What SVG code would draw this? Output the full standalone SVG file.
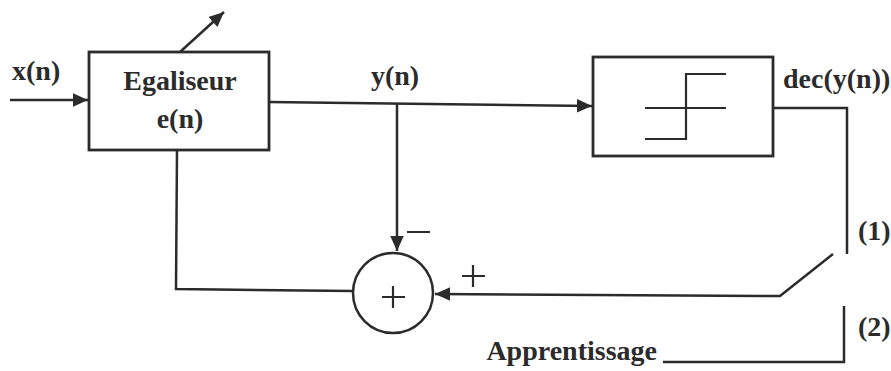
<svg xmlns="http://www.w3.org/2000/svg" width="891" height="371" viewBox="0 0 891 371">
<style>
.ln{fill:none;stroke:#2b2b2b;stroke-width:2.5}
.bx{fill:#fff;stroke:#2b2b2b;stroke-width:2.8}
.t{font-weight:bold;font-size:28px;fill:#2b2b2b}
.s{fill:none;stroke:#2b2b2b;stroke-width:2.2}
</style>
<defs>
<marker id="ah" viewBox="0 0 10 10" refX="10" refY="5" markerWidth="6" markerHeight="6" markerUnits="strokeWidth" orient="auto">
<path d="M0,0.5 L10,5 L0,9.5 Z" fill="#2b2b2b"/>
</marker>
</defs>
<rect width="891" height="371" fill="#fff"/>
<g id="connectors">
<line class="ln" x1="10" y1="100" x2="88" y2="100" marker-end="url(#ah)"/>
<line class="ln" x1="180" y1="52" x2="224" y2="12" marker-end="url(#ah)"/>
<line class="ln" x1="269" y1="102" x2="592" y2="106" marker-end="url(#ah)"/>
<line class="ln" x1="397" y1="103" x2="397" y2="251" marker-end="url(#ah)"/>
<polyline class="ln" points="177,150 176,289 353,291"/>
<polyline class="ln" points="773,108 847,108 847,254"/>
<polyline class="ln" points="833,254 780,296 435,294" marker-end="url(#ah)"/>
<polyline class="ln" points="844,306 844,362 663,362"/>
</g>
<g id="egaliseur">
<rect class="bx" x="89" y="52" width="180" height="98"/>
<text class="t" font-family="Liberation Serif, serif" x="180" y="90" text-anchor="middle">Egaliseur</text>
<text class="t" font-family="Liberation Serif, serif" x="180" y="128" text-anchor="middle">e(n)</text>
</g>
<g id="decision">
<rect class="bx" x="593" y="57" width="180" height="99"/>
<line class="s" x1="645" y1="108" x2="726" y2="108"/>
<polyline class="s" points="726,74 686,74 686,139 645,139"/>
</g>
<g id="sommateur">
<circle class="ln" cx="393" cy="293" r="40"/>
<path class="s" d="M382,297 H405 M393,286 V308"/>
</g>
<g id="labels" font-family="Liberation Serif, serif">
<text class="t" x="12" y="80">x(n)</text>
<text class="t" x="395" y="85" text-anchor="middle">y(n)</text>
<text class="t" x="783" y="88">dec(y(n))</text>
<text class="t" x="858" y="240">(1)</text>
<text class="t" x="858" y="336">(2)</text>
<text class="t" x="657" y="360" text-anchor="end">Apprentissage</text>
<path class="s" d="M407,232 H430 M462,276 H485 M473,265 V287"/>
</g>
</svg>
